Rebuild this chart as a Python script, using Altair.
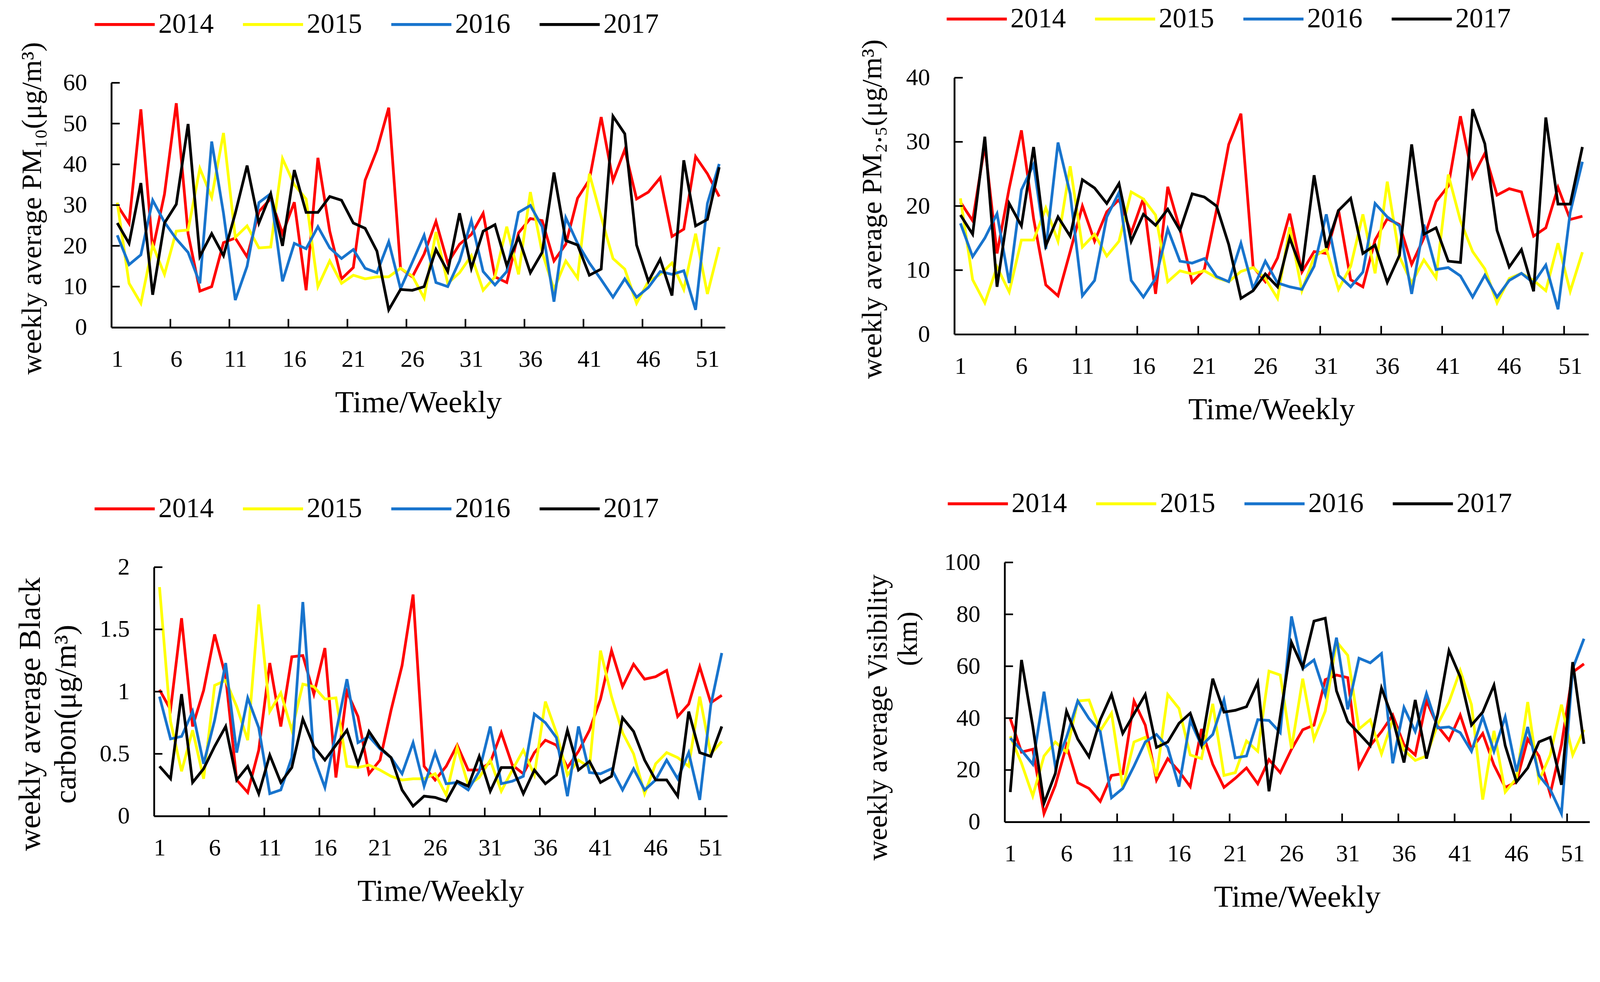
import altair as alt
import pandas as pd

FONT = "Liberation Serif"
weeks = list(range(1, 53))
years = ["2014", "2015", "2016", "2017"]
colors = ["#FF0000", "#FFFF00", "#1874CD", "#000000"]
week_labels = [1, 6, 11, 16, 21, 26, 31, 36, 41, 46, 51]
week_ticks = [5.5, 10.5, 15.5, 20.5, 25.5, 30.5, 35.5, 40.5, 45.5, 50.5]

pm10_2014 = [30, 25.5, 53.5, 19, 32.7, 55, 23, 8.9, 10, 20.8, 21.9, 17.3, 28.4, 31.6, 23, 30.7, 9.1, 41.6, 23.6, 11.9, 14.7, 36.1, 43.5, 53.9, 14.5, 12.4, 18, 26, 15.8, 20.4, 22.8, 28, 12.4, 11, 23.2, 26.7, 26.2, 16.3, 20.4, 31.7, 36.2, 51.6, 36, 43.6, 31.5, 33.2, 36.7, 22.3, 24.1, 41.9, 37.7, 32.1]
pm10_2015 = [30.6, 10.8, 5.9, 20.2, 13, 23.6, 23.9, 39, 31.9, 47.7, 22.1, 24.9, 19.5, 19.7, 41.4, 35, 31.5, 10, 16.3, 10.8, 12.8, 11.9, 12.4, 12.4, 14.5, 12.6, 7.2, 23.4, 10.8, 13.4, 17.6, 9.1, 12.4, 24.7, 13, 33.2, 18.4, 9.3, 16.3, 12.1, 37.7, 27.1, 16.9, 14.3, 5.9, 11.3, 13, 15.8, 9.3, 23, 8.2, 19.7]
pm10_2016 = [22.6, 15.4, 17.8, 31.2, 25.8, 21.7, 18.4, 10.8, 45.6, 28, 6.7, 15, 30.6, 32.8, 11.3, 20.6, 19.3, 24.7, 19.5, 16.9, 19.1, 14.5, 13.4, 21, 9.5, 16, 22.6, 11, 10, 16.3, 26.2, 13.7, 10.4, 13.7, 28.2, 29.9, 24.7, 6.3, 26.9, 20.6, 15.8, 11.7, 7.4, 11.9, 7.4, 9.8, 13.7, 13, 13.9, 4.3, 30.4, 40.1]
pm10_2017 = [25.6, 20.6, 35.4, 8, 25.6, 30.2, 49.9, 17.4, 23, 17.6, 28, 39.7, 25.6, 32.8, 20, 38.6, 28.2, 28.2, 32.1, 31.2, 25.6, 24.3, 18.7, 4.3, 9.3, 9.1, 10, 19.1, 13.7, 28, 14.5, 23.6, 25.2, 15.2, 22.1, 13.4, 18.4, 38, 21.3, 20.2, 12.8, 14.3, 51.8, 47.5, 20.2, 11.3, 16.7, 7.8, 41, 24.9, 26.5, 39.3]

pm25_2014 = [20.6, 17.7, 29.5, 12.6, 22.8, 31.8, 18, 7.7, 6, 12.9, 20, 14.5, 19.1, 21, 15.8, 21.2, 6.3, 23, 16.4, 8.1, 10.1, 19.4, 29.6, 34.4, 10.5, 8.2, 11.9, 18.8, 9.7, 12.9, 12.6, 19.4, 8.5, 7.4, 14.7, 18, 17.1, 10.9, 15, 20.7, 23.1, 34, 24.5, 28.2, 21.7, 22.7, 22.2, 15.3, 16.6, 22.9, 17.9, 18.4]
pm25_2015 = [21.2, 8.5, 4.9, 10.5, 6.6, 14.7, 14.7, 19.7, 14.5, 26.2, 13.6, 15.6, 12.2, 14.5, 22.2, 21.1, 18.6, 8.2, 9.9, 9.4, 9.9, 8.8, 8.2, 9.8, 10.4, 8.7, 5.6, 16.7, 6.8, 12.1, 13.3, 7, 10.6, 18.7, 9.5, 23.8, 12.1, 8, 11.6, 8.8, 24.9, 17.7, 12.9, 10.2, 4.9, 8.7, 9.5, 8.4, 6.8, 14.2, 6.7, 12.8]
pm25_2016 = [17.3, 12.1, 15, 18.8, 8, 22.5, 26.5, 13.3, 29.9, 21.9, 6, 8.4, 18.3, 22.1, 8.4, 5.8, 8.7, 16.4, 11.4, 11.1, 11.8, 9, 8.2, 14.2, 7.1, 11.4, 8, 7.4, 7, 10.6, 18.7, 9.2, 7.4, 9.7, 20.4, 18.3, 16.9, 6.3, 17.1, 10.1, 10.4, 9.1, 5.8, 9.2, 5.8, 8.4, 9.5, 8, 10.8, 3.9, 19, 26.9]
pm25_2017 = [18.6, 15.6, 30.8, 7.4, 20.4, 16.9, 29.2, 13.8, 18.3, 15.3, 24.1, 22.8, 20.4, 23.5, 14.5, 18.7, 17, 19.5, 16.2, 21.9, 21.4, 20, 14, 5.6, 6.8, 9.4, 7.4, 15, 9.9, 24.8, 13.5, 19.3, 21.2, 12.6, 13.9, 8.1, 12.3, 29.6, 15.6, 16.6, 11.4, 11.2, 35.1, 29.7, 16.2, 10.5, 13.2, 6.7, 33.8, 20.3, 20.3, 29.2]

bc_2014 = [1.015, 0.855, 1.59, 0.72, 1.01, 1.46, 1.12, 0.29, 0.19, 0.53, 1.23, 0.72, 1.28, 1.29, 0.98, 1.35, 0.31, 1.0, 0.8, 0.34, 0.45, 0.85, 1.21, 1.78, 0.40, 0.29, 0.40, 0.57, 0.37, 0.37, 0.43, 0.67, 0.41, 0.34, 0.51, 0.61, 0.57, 0.39, 0.52, 0.69, 0.94, 1.33, 1.04, 1.22, 1.10, 1.12, 1.17, 0.80, 0.90, 1.20, 0.91, 0.97]
bc_2015 = [1.84, 0.76, 0.36, 0.69, 0.30, 1.05, 1.09, 0.88, 0.61, 1.70, 0.84, 0.99, 0.69, 1.06, 1.04, 0.94, 0.95, 0.40, 0.39, 0.41, 0.37, 0.32, 0.29, 0.30, 0.30, 0.34, 0.17, 0.55, 0.25, 0.31, 0.45, 0.20, 0.37, 0.53, 0.33, 0.92, 0.67, 0.33, 0.45, 0.39, 1.33, 0.96, 0.67, 0.50, 0.18, 0.42, 0.51, 0.47, 0.40, 0.96, 0.50, 0.60]
bc_2016 = [0.96, 0.62, 0.64, 0.84, 0.42, 0.77, 1.23, 0.51, 0.95, 0.71, 0.18, 0.21, 0.47, 1.72, 0.47, 0.23, 0.67, 1.10, 0.59, 0.64, 0.54, 0.47, 0.34, 0.59, 0.24, 0.51, 0.26, 0.27, 0.21, 0.36, 0.72, 0.26, 0.28, 0.32, 0.82, 0.75, 0.63, 0.16, 0.72, 0.35, 0.34, 0.38, 0.21, 0.38, 0.21, 0.29, 0.45, 0.30, 0.51, 0.13, 0.89, 1.31]
bc_2017 = [0.40, 0.30, 0.98, 0.27, 0.38, 0.56, 0.72, 0.29, 0.40, 0.18, 0.49, 0.27, 0.39, 0.78, 0.56, 0.45, 0.57, 0.69, 0.42, 0.68, 0.55, 0.47, 0.21, 0.08, 0.16, 0.15, 0.12, 0.28, 0.24, 0.48, 0.20, 0.39, 0.39, 0.18, 0.37, 0.26, 0.33, 0.69, 0.37, 0.44, 0.27, 0.32, 0.79, 0.68, 0.45, 0.29, 0.29, 0.16, 0.84, 0.51, 0.48, 0.72]

vis_2014 = [39.8, 26.9, 28, 3.2, 14, 29.4, 15.1, 12.9, 7.9, 17.9, 18.6, 46.6, 37.3, 16.1, 24.4, 19.5, 13.6, 35.8, 22.2, 13.3, 16.8, 20.8, 14.7, 24, 19, 28, 35.5, 37.3, 54.8, 56.6, 55.6, 21.1, 29.4, 34.8, 41.2, 29.7, 25.8, 46.6, 36.9, 31.5, 41.2, 28, 34.1, 21.9, 13.3, 15.4, 31.9, 25.4, 10.8, 29.7, 57.7, 60.9]
vis_2015 = [33, 22.6, 10, 25.4, 30.8, 26.9, 46.6, 47, 35.1, 41.9, 13.3, 30.8, 32.6, 17.6, 49.1, 43.7, 25.8, 24.4, 45.5, 17.9, 19, 31.2, 27.2, 58.1, 56.6, 28.3, 55.2, 31.9, 42.7, 69.5, 64.2, 35.8, 39.4, 26.2, 39.4, 27.6, 23.7, 25.4, 37.6, 46.2, 58.4, 45.2, 8.6, 35.1, 11.5, 16.8, 46.2, 15.8, 25.8, 45.2, 25.8, 35.5]
vis_2016 = [32.3, 27.6, 22.2, 50.2, 21.5, 32.6, 46.6, 39.8, 34.8, 9.3, 12.9, 21.5, 30.8, 33.7, 28.7, 13.6, 39.1, 29.4, 33.7, 47, 24.7, 25.4, 39.4, 39.1, 34.4, 79.2, 59.1, 62.4, 49.1, 71, 43.4, 63.1, 61.3, 64.9, 22.6, 44.1, 34.8, 49.5, 36.2, 36.6, 34.4, 27.2, 40.5, 27.2, 40.5, 19.4, 36.6, 17.9, 12.5, 3.2, 59.1, 70.6]
vis_2017 = [11.5, 62.4, 36.9, 7.2, 18.6, 42.7, 31.9, 25.1, 39.4, 49.1, 34.1, 41.6, 49.1, 28.7, 30.8, 38, 41.9, 29.7, 55.2, 42.3, 43, 44.4, 53.8, 11.8, 40.5, 69.2, 59.5, 77.4, 78.5, 50.5, 38.7, 34.1, 29.4, 51.6, 39.8, 22.9, 47, 24.4, 41.6, 66, 55.9, 37.3, 42.3, 52.7, 29.4, 15.4, 20.8, 30.8, 32.6, 14.3, 61.6, 30.1]


def make_df(series):
    rows = []
    for yr, vals in zip(years, series):
        for w, v in zip(weeks, vals):
            rows.append({"week": w, "value": v, "year": yr})
    return pd.DataFrame(rows)


def y_axis(c, yvals, title, tx, ty, fs, align, lh=96, show=True):
    kw = dict(
        orient="left", title=title, grid=False, ticks=False, tickSize=0, offset=-c["dx"],
        titleFont=FONT, titleFontSize=fs, titleFontWeight="normal", titleColor="black",
        titleX=tx, titleY=ty, titleAngle=270, titleAlign=align, titleBaseline="top",
        titleLineHeight=lh,
    )
    if show:
        kw.update(
            values=yvals, labelExpr="datum.value + ''",
            labelFont=FONT, labelFontSize=66, labelColor="black", labelPadding=67,
            labelFlush=False, labelOverlap=False, labelBound=False,
            domainColor="black", domainWidth=5,
        )
    else:
        kw.update(labels=False, domain=False)
    return alt.Axis(**kw)


def panel(series, ydom, yvals, ytitle, c, second_title=None):
    dx, dy, W, H = c["dx"], c["dy"], c["W"], c["H"]
    df = make_df(series)
    xscale = alt.Scale(domain=[0.5, 52.5], range=[dx, dx + W], nice=False, zero=False)
    yscale = alt.Scale(domain=ydom, range=[dy + H, dy], nice=False, zero=False)
    xaxis = alt.Axis(
        values=week_labels, title="Time/Weekly", grid=False, ticks=False, tickSize=0,
        labelFont=FONT, labelFontSize=66, labelColor="black", labelPadding=56,
        labelFlush=False, labelOverlap=False, labelBound=False,
        domainColor="black", domainWidth=5,
        titleFont=FONT, titleFontSize=85, titleFontWeight="normal", titleColor="black",
        titleX=dx + W / 2, titleY=232, titleAlign="center", titleBaseline="alphabetic",
    )
    yaxis = y_axis(c, yvals, ytitle, c["tx"], c["ty"], c["tfs"], c["ta"], c.get("lh", 96))
    legend = alt.Legend(
        orient="none", legendX=c["lx"], legendY=c["ly"], direction="horizontal",
        columns=4, title=None, symbolType="stroke", symbolSize=27225,
        symbolStrokeWidth=8, labelFont=FONT, labelFontSize=76, labelColor="black",
        labelOffset=6, columnPadding=76, padding=0, clipHeight=80, labelLimit=0,
    )
    lines = alt.Chart(df).mark_line(strokeWidth=7.5).encode(
        x=alt.X("week:Q", scale=xscale, axis=xaxis),
        y=alt.Y("value:Q", scale=yscale, axis=yaxis),
        color=alt.Color("year:N", scale=alt.Scale(domain=years, range=colors), legend=legend),
    )
    if second_title is not None:
        yaxis2 = y_axis(c, yvals, second_title, c["tx2"], c["ty2"], c["tfs"], "center", show=False)
    else:
        yaxis2 = yaxis
    ytk = alt.Chart(pd.DataFrame({"value": yvals[1:]})).mark_rule(
        color="black", strokeWidth=4.5
    ).encode(
        y=alt.Y("value:Q", scale=yscale, axis=yaxis2),
        x=alt.value(dx), x2=alt.value(dx + 23),
    )
    xtk = alt.Chart(pd.DataFrame({"week": week_ticks})).mark_rule(
        color="black", strokeWidth=4.5
    ).encode(
        x=alt.X("week:Q", scale=xscale, axis=xaxis),
        y=alt.value(dy + H), y2=alt.value(dy + H - 23),
    )
    layered = alt.layer(lines, ytk, xtk).properties(width=dx + W, height=dy + H)
    if second_title is not None:
        layered = layered.resolve_axis(y="independent")
    return layered


SHIFT = 88
c1 = dict(dx=297, dy=217 - SHIFT, W=1684, H=671, tx=-255, ty=1017 - SHIFT, ta="left", tfs=78,
          lx=247, ly=17 - SHIFT)
c2 = dict(dx=623, dy=203 - SHIFT, W=1740, H=704, tx=-263, ty=1029 - SHIFT, ta="left", tfs=78,
          lx=598, ly=2 - SHIFT)
c3 = dict(dx=414, dy=639, W=1573, H=683, tx=-381, ty=1042, ta="center", tfs=85,
          lx=247, ly=439, lh=98)
c4 = dict(dx=761, dy=626, W=1605, H=712, tx=-385, ty=1051, ta="center", tfs=77,
          lx=601, ly=425, tx2=-302, ty2=835)

p1 = panel([pm10_2014, pm10_2015, pm10_2016, pm10_2017], [0, 60],
           [0, 10, 20, 30, 40, 50, 60], "weekly average PM\u2081\u2080(\u03bcg/m\u00b3)", c1)
p2 = panel([pm25_2014, pm25_2015, pm25_2016, pm25_2017], [0, 40],
           [0, 10, 20, 30, 40], "weekly average PM\u2082.\u2085(\u03bcg/m\u00b3)", c2)
p3 = panel([bc_2014, bc_2015, bc_2016, bc_2017], [0, 2],
           [0, 0.5, 1, 1.5, 2], ["weekly average Black", "carbon(\u03bcg/m\u00b3)"], c3)
p4 = panel([vis_2014, vis_2015, vis_2016, vis_2017], [0, 100],
           [0, 20, 40, 60, 80, 100], "weekly average Visibility", c4, second_title="(km)")

chart = alt.concat(p1, p2, p3, p4, columns=2, spacing=0, bounds="flush").resolve_scale(
    color="independent"
).properties(
    autosize=alt.AutoSizeParams(type="none"),
    padding={"left": 0, "top": 0, "right": 4373, "bottom": 2498},
    background="white",
).configure_view(stroke="transparent", strokeWidth=0)

chart.save("out.html", embed_options={"renderer": "svg", "actions": False})
